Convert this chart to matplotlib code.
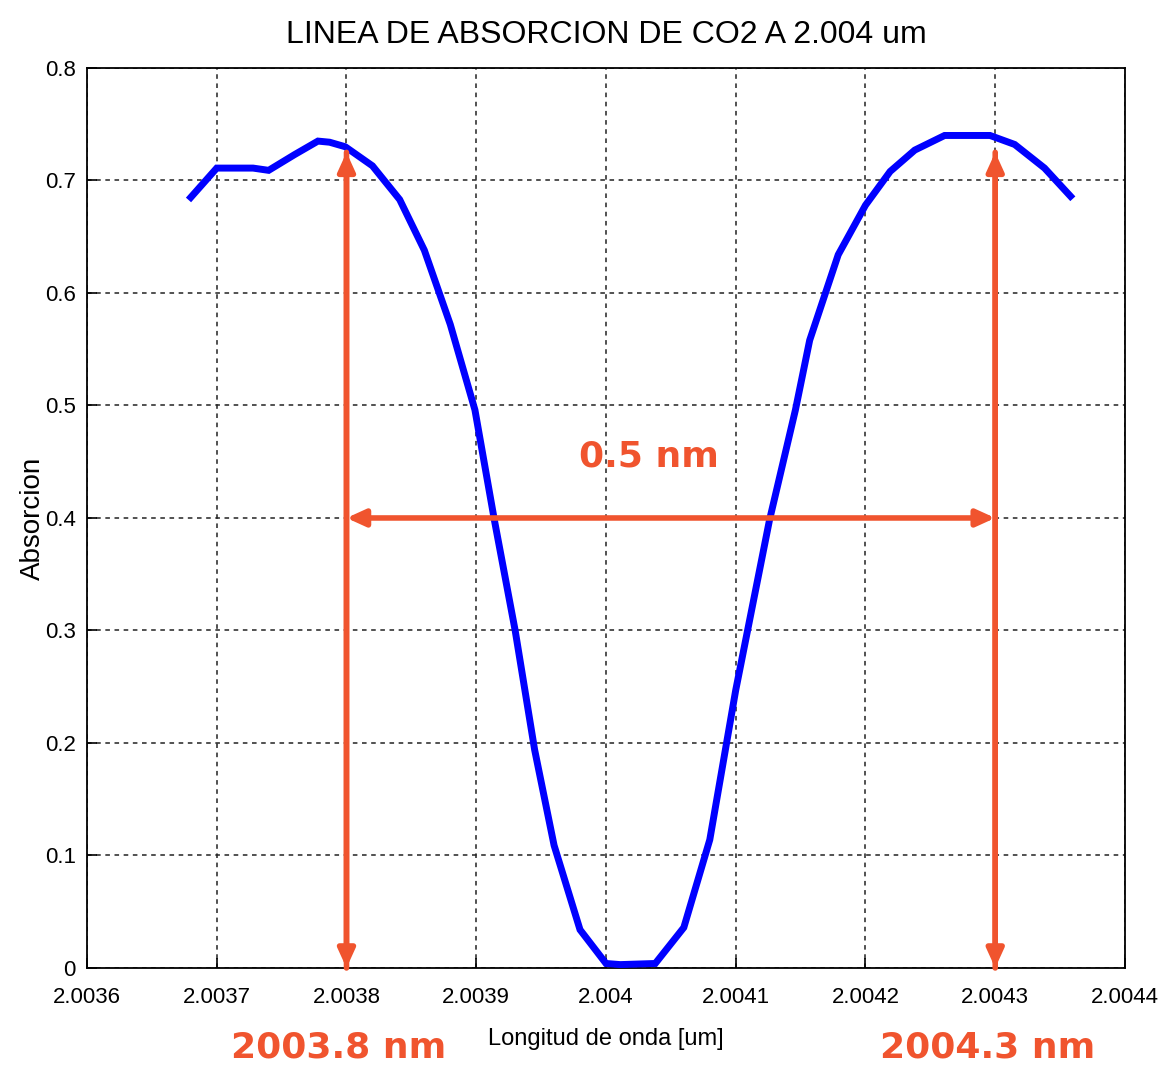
import matplotlib
matplotlib.use("Agg")
import matplotlib.pyplot as plt
from matplotlib import font_manager

# absorption profile of the CO2 line near 2.004 um
wavelength_um = [
    2.003680, 2.003700, 2.003728, 2.003740, 2.003760, 2.003778, 2.003787,
    2.003799, 2.003820, 2.003841, 2.003860, 2.003880, 2.003899, 2.003914,
    2.003930, 2.003945, 2.003960, 2.003980, 2.004000, 2.004011, 2.004038,
    2.004060, 2.004080, 2.004100, 2.004126, 2.004146, 2.004157, 2.004179,
    2.004200, 2.004219, 2.004238, 2.004261, 2.004296, 2.004315, 2.004338,
    2.004358,
]
absorcion = [
    0.685, 0.711, 0.711, 0.709, 0.723, 0.735, 0.734,
    0.730, 0.713, 0.683, 0.638, 0.572, 0.496, 0.398,
    0.300, 0.194, 0.109, 0.034, 0.004, 0.003, 0.004,
    0.036, 0.114, 0.247, 0.398, 0.496, 0.558, 0.634,
    0.678, 0.708, 0.727, 0.740, 0.740, 0.732, 0.711,
    0.686,
]

# width markers
left_edge = 2.0038
right_edge = 2.0043
marker_top = 0.725
width_level = 0.4
width_text = "0.5 nm"
left_text = "2003.8 nm"
right_text = "2004.3 nm"

xticks = [2.0036, 2.0037, 2.0038, 2.0039, 2.0040, 2.0041, 2.0042, 2.0043, 2.0044]
xtick_labels = ["2.0036", "2.0037", "2.0038", "2.0039", "2.004", "2.0041",
                "2.0042", "2.0043", "2.0044"]
yticks = [0, 0.1, 0.2, 0.3, 0.4, 0.5, 0.6, 0.7, 0.8]
ytick_labels = ["0", "0.1", "0.2", "0.3", "0.4", "0.5", "0.6", "0.7", "0.8"]

narrow = "Liberation Sans Narrow"
if narrow not in {f.name for f in font_manager.fontManager.ttflist}:
    narrow = "Liberation Sans"
ORANGE = "#F0542E"

fig = plt.figure(figsize=(11.6, 10.67), dpi=100)
ax = fig.add_axes([0.075, 0.0928, 0.8948, 0.8435])

ax.plot(wavelength_um, absorcion, color="#0000FF", linewidth=5,
        solid_joinstyle="miter", zorder=3)

ax.set_xlim(2.0036, 2.0044)
ax.set_ylim(0, 0.8)
ax.set_xticks(xticks)
ax.set_xticklabels(xtick_labels, fontfamily=narrow, fontsize=16)
ax.set_yticks(yticks)
ax.set_yticklabels(ytick_labels, fontfamily=narrow, fontsize=16)
ax.tick_params(direction="in", length=7, width=1.2)
ax.tick_params(axis="x", pad=14)
ax.tick_params(axis="y", pad=8)
ax.grid(True, color="#222222", linestyle=(0, (3, 3)), linewidth=1.1)
for sp in ax.spines.values():
    sp.set_linewidth(1.3)

ax.set_title("LINEA DE ABSORCION DE CO2 A 2.004 um", fontfamily=narrow,
             fontsize=23, pad=18)
ax.set_xlabel("Longitud de onda [um]", fontfamily=narrow, fontsize=17,
              labelpad=14)
ax.set_ylabel("Absorcion", fontfamily="Liberation Sans", fontsize=20)
ax.yaxis.set_label_coords(-0.04, 0.5)

# vertical arrows at the two edges, horizontal arrow for the width
arrow = dict(arrowstyle="-|>,head_length=1.1,head_width=0.5", color=ORANGE,
             lw=4, shrinkA=0, shrinkB=0)
for x in (left_edge, right_edge):
    ax.annotate("", xy=(x, marker_top), xytext=(x, 0.0), arrowprops=arrow,
                zorder=4)
    ax.annotate("", xy=(x, 0.0), xytext=(x, marker_top), arrowprops=arrow,
                zorder=4)
harrow = dict(arrowstyle="<|-|>,head_length=1.1,head_width=0.5",
              color=ORANGE, lw=4, shrinkA=0, shrinkB=0)
ax.annotate("", xy=(left_edge, width_level), xytext=(right_edge, width_level),
            arrowprops=harrow, zorder=4)

ax.text((left_edge + right_edge) / 2 - 0.000017, 0.455, width_text,
        color=ORANGE, fontsize=26, fontweight="bold", ha="center",
        va="center", fontfamily="DejaVu Sans")
for x, label in ((left_edge, left_text), (right_edge, right_text)):
    ax.text(x - 0.000006, -0.0705, label, color=ORANGE, fontsize=26,
            fontweight="bold", ha="center", va="center",
            fontfamily="DejaVu Sans")

fig.savefig("out.png", dpi=100)
